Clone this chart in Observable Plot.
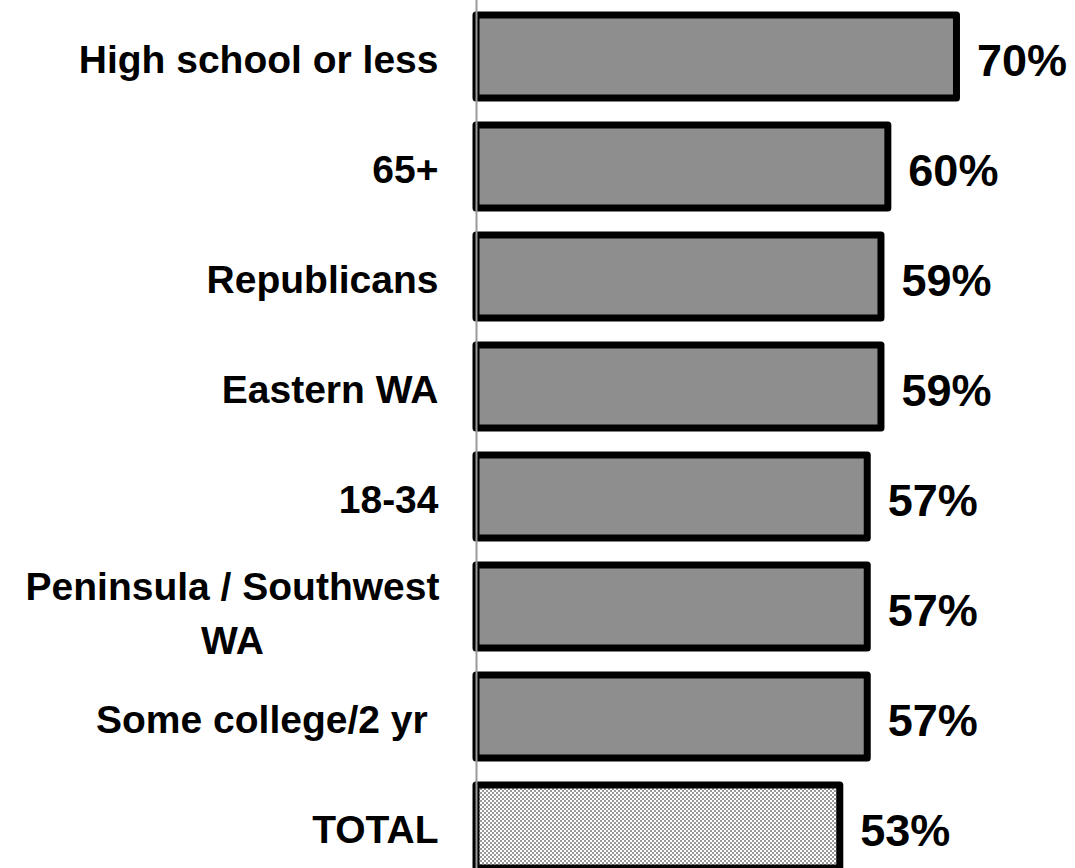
<!DOCTYPE html>
<html>
<head>
<meta charset="utf-8">
<script src="https://cdn.jsdelivr.net/npm/d3@7"></script>
<script src="https://cdn.jsdelivr.net/npm/@observablehq/plot@0.6"></script>
<style>
  html, body { margin: 0; padding: 0; background: #fff; }
  svg text { white-space: pre; }
</style>
</head>
<body>
<div id="chart"></div>
<script>
const categories = ["High school or less", "65+", "Republicans", "Eastern WA", "18-34", "Peninsula / Southwest\nWA", "Some college/2 yr ", "TOTAL"];
const values = [70, 60, 59, 59, 57, 57, 57, 53];
const totalLabel = "TOTAL";

const data = categories.map((c, i) => ({category: c, value: values[i]}));
const font = "'Liberation Sans', Arial, sans-serif";

const chart = Plot.plot({
  width: 1075,
  height: 868,
  marginTop: 0,
  marginBottom: 0,
  marginLeft: 0,
  marginRight: 0,
  style: {background: "#fff", fontFamily: font},
  x: {domain: [0, 100], range: [476, 1162.4], axis: null},
  y: {domain: categories, range: [13.6, 868.4], paddingInner: 0.25, paddingOuter: 0, axis: null},
  marks: [
    Plot.barX(data.filter(d => d.category !== totalLabel), {
      x: "value", y: "category", fill: "#8e8e8e", stroke: "#000", strokeWidth: 7, strokeLinejoin: "round"
    }),
    Plot.barX(data.filter(d => d.category === totalLabel), {
      x: "value", y: "category", fill: "url(#checker)", stroke: "#000", strokeWidth: 7, strokeLinejoin: "round"
    }),
    Plot.ruleX([0], {stroke: "#9a9a9a", strokeWidth: 2}),
    Plot.text(data, {
      x: "value", y: "category", text: d => d.value + "%", dx: 20, dy: 5,
      textAnchor: "start", fontSize: 45, fontWeight: "bold", fill: "#000", fontFamily: font
    }),
    Plot.text(data.filter(d => !d.category.includes("\n")), {
      x: () => 0, y: "category", text: "category", dx: -38, dy: 3.5,
      textAnchor: "end", fontSize: 39, fontWeight: "bold", fill: "#000", fontFamily: font
    }),
    Plot.text(data.filter(d => d.category.includes("\n")), {
      x: () => 0, y: "category", text: "category", dx: -244, dy: 3,
      textAnchor: "middle", lineHeight: 1.38, fontSize: 39, fontWeight: "bold", fill: "#000", fontFamily: font
    })
  ]
});

const defs = d3.select(chart).insert("defs", ":first-child");
const pat = defs.append("pattern")
  .attr("id", "checker").attr("patternUnits", "userSpaceOnUse")
  .attr("width", 4).attr("height", 4);
pat.append("rect").attr("width", 4).attr("height", 4).attr("fill", "#ffffff");
pat.append("rect").attr("width", 2).attr("height", 2).attr("fill", "#9a9a9a");
pat.append("rect").attr("x", 2).attr("y", 2).attr("width", 2).attr("height", 2).attr("fill", "#9a9a9a");

document.getElementById("chart").appendChild(chart);
</script>
</body>
</html>
